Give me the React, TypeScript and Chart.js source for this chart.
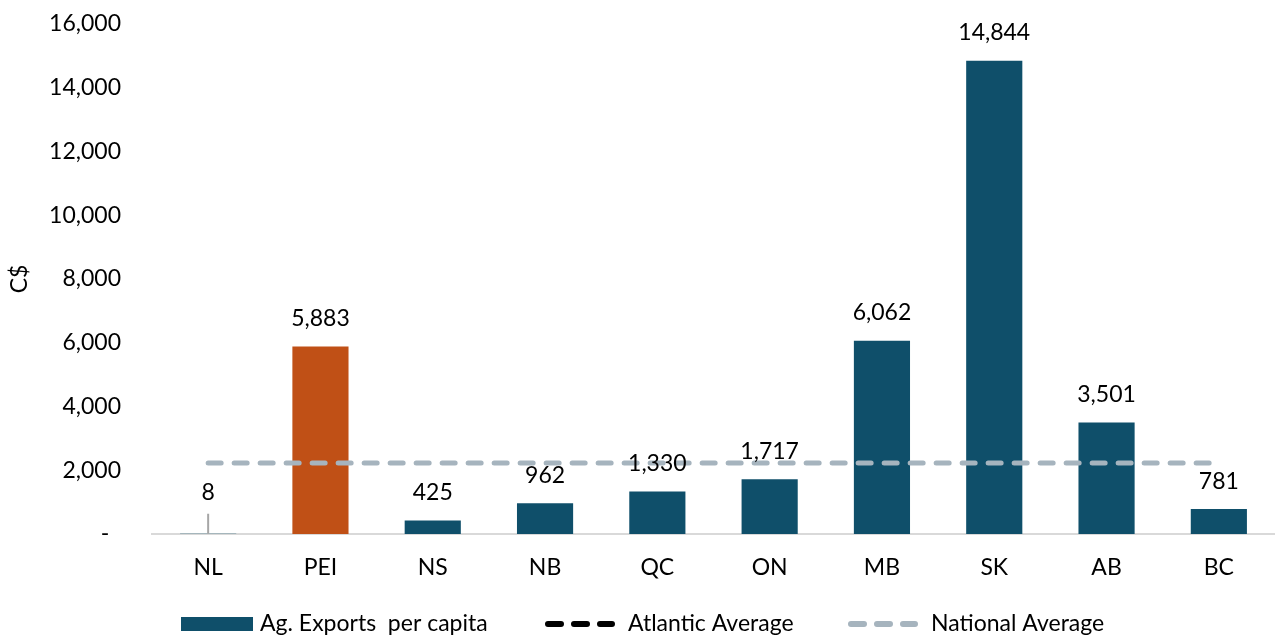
import React, { useEffect, useRef } from 'react';
import { Chart, registerables } from 'chart.js';

Chart.register(...registerables);

const categories = ['NL', 'PEI', 'NS', 'NB', 'QC', 'ON', 'MB', 'SK', 'AB', 'BC'];
const agExportsPerCapita = [8, 5883, 425, 962, 1330, 1717, 6062, 14844, 3501, 781];
const atlanticAverage: (number | null)[] = [null, null, null, null, null, null, null, null, null, null];
const nationalAverage = [2230, 2230, 2230, 2230, 2230, 2230, 2230, 2230, 2230, 2230];
const yTickValues = [0, 2000, 4000, 6000, 8000, 10000, 12000, 14000, 16000];
const seriesLabels = ['Ag. Exports  per capita', 'Atlantic Average', 'National Average'];
const highlightCategory = 'PEI';
const yAxisTitle = 'C$';

const TEAL = '#0F4F6A';
const ORANGE = '#C05016';
const NAT_GRAY = '#A6B4BE';
const FONT = 'Lato, "Open Sans", sans-serif';
const FS = 23;

const barLabelPlugin = {
  id: 'barLabels',
  afterDatasetsDraw(chart: any) {
    const meta = chart.getDatasetMeta(0);
    const ctx = chart.ctx;
    ctx.save();
    ctx.font = `${FS}px ${FONT}`;
    ctx.fillStyle = '#000';
    ctx.textAlign = 'center';
    ctx.textBaseline = 'middle';
    meta.data.forEach((bar: any, i: number) => {
      const v = agExportsPerCapita[i];
      const { x, y, base } = bar.getProps(['x', 'y', 'base'], true);
      const h = base - y;
      let ly = y - 28;
      if (h < 3) {
        ly = y - 41;
        ctx.save();
        ctx.strokeStyle = '#A6A6A6';
        ctx.lineWidth = 2;
        ctx.beginPath();
        ctx.moveTo(x, y - 20);
        ctx.lineTo(x, y);
        ctx.stroke();
        ctx.restore();
      }
      ctx.fillText(v.toLocaleString('en-US'), x, ly);
    });
    ctx.restore();
  },
};

const legendPlugin = {
  id: 'customLegend',
  afterDraw(chart: any) {
    const ctx = chart.ctx;
    const baseline = 631;
    const mid = 624;
    const items = [
      { kind: 'box', color: TEAL, x: 181, textX: 260 },
      { kind: 'line', color: '#000', x: 545, textX: 628 },
      { kind: 'line', color: NAT_GRAY, x: 848, textX: 931 },
    ];
    ctx.save();
    items.forEach((it, i) => {
      if (it.kind === 'box') {
        ctx.fillStyle = it.color;
        ctx.fillRect(it.x, mid - 7, 72, 14);
      } else {
        ctx.strokeStyle = it.color;
        ctx.lineWidth = 6;
        ctx.lineCap = 'round';
        ctx.setLineDash([13, 13]);
        ctx.beginPath();
        ctx.moveTo(it.x + 3, mid);
        ctx.lineTo(it.x + 67, mid);
        ctx.stroke();
        ctx.setLineDash([]);
      }
      ctx.fillStyle = '#000';
      ctx.font = `${FS}px ${FONT}`;
      ctx.textAlign = 'left';
      ctx.textBaseline = 'alphabetic';
      ctx.fillText(seriesLabels[i], it.textX, baseline);
    });
    ctx.restore();
  },
};

export default function App() {
  const ref = useRef<HTMLCanvasElement | null>(null);

  useEffect(() => {
    if (!ref.current) return;
    const chart = new Chart(ref.current, {
      type: 'bar',
      data: {
        labels: categories,
        datasets: [
          {
            type: 'bar',
            label: seriesLabels[0],
            data: agExportsPerCapita,
            backgroundColor: categories.map((c) => (c === highlightCategory ? ORANGE : TEAL)),
            categoryPercentage: 1,
            barPercentage: 0.5,
            order: 2,
          } as any,
          {
            type: 'line',
            label: seriesLabels[1],
            data: atlanticAverage,
            borderColor: '#000',
            borderWidth: 5,
            borderDash: [13, 13],
            borderCapStyle: 'round',
            pointRadius: 0,
            order: 1,
          } as any,
          {
            type: 'line',
            label: seriesLabels[2],
            data: nationalAverage,
            borderColor: NAT_GRAY,
            borderWidth: 5,
            borderDash: [13, 13],
            borderCapStyle: 'round',
            pointRadius: 0,
            order: 0,
          } as any,
        ],
      },
      options: {
        responsive: false,
        animation: false,
        layout: { padding: { top: 24, bottom: 51, left: 0, right: 0 } },
        plugins: {
          legend: { display: false },
          tooltip: { enabled: false },
        },
        scales: {
          x: {
            grid: { display: false, drawTicks: false },
            border: { display: true, color: '#D9D9D9', width: 2 },
            ticks: { color: '#000', font: { family: FONT, size: FS }, padding: 20 },
            afterFit: (s: any) => {
              s.height = 50;
              s.paddingLeft = 0;
              s.paddingRight = 0;
            },
          },
          y: {
            min: 0,
            max: 16000,
            grid: { display: false, drawTicks: false },
            border: { display: false },
            afterBuildTicks: (s: any) => {
              s.ticks = yTickValues.map((v) => ({ value: v }));
            },
            ticks: {
              color: '#000',
              font: { family: FONT, size: FS },
              padding: 31,
              callback: (v: any) => (Number(v) === 0 ? '-  ' : Number(v).toLocaleString('en-US')),
            },
            title: {
              display: true,
              text: yAxisTitle,
              color: '#000',
              font: { family: FONT, size: FS },
              padding: { top: 6, bottom: 0 },
            },
            afterFit: (s: any) => {
              s.width = 152;
              s.paddingTop = 0;
              s.paddingBottom = 0;
            },
          },
        },
      },
      plugins: [barLabelPlugin, legendPlugin],
    });
    return () => chart.destroy();
  }, []);

  return (
    <div style={{ position: 'fixed', left: 0, top: 0, width: 1275, height: 635, background: '#fff' }}>
      <canvas ref={ref} width={1275} height={635} style={{ display: 'block' }} />
    </div>
  );
}
